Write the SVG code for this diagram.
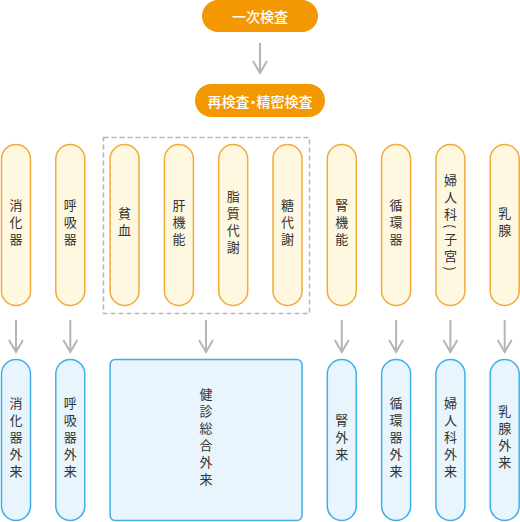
<svg xmlns="http://www.w3.org/2000/svg" width="520" height="522" viewBox="0 0 520 522">
<style>
.main{fill:#f39800}
.mt{fill:#fff;font-family:"Noto Sans CJK JP","Noto Sans",sans-serif;font-size:14px;font-weight:500;text-anchor:middle;dominant-baseline:central;font-feature-settings:"palt"}
.y{fill:#fff8e1;stroke:#f5a938;stroke-width:1.5}
.b{fill:#e8f5fd;stroke:#3fb0ea;stroke-width:1.5}
.vt{fill:#333;font-family:"Noto Sans CJK JP","Noto Sans",sans-serif;font-size:13px;writing-mode:vertical-rl;text-anchor:middle;letter-spacing:4px}
.ar{stroke:#b5b5b5;stroke-width:2;fill:none;marker-end:url(#ah)}
</style>
<defs>
<marker id="ah" markerUnits="userSpaceOnUse" viewBox="-14 -9 16 18" markerWidth="16" markerHeight="18" refX="0" refY="0" orient="auto">
<path d="M-12,-7 L0,0 L-12,7" fill="none" stroke="#b5b5b5" stroke-width="2"/>
</marker>
</defs>
<rect width="520" height="522" fill="#fff"/>
<g id="connectors">
<line class="ar" x1="260" y1="43" x2="260" y2="73"/>
<line class="ar" x1="16" y1="320" x2="16" y2="352"/>
<line class="ar" x1="70.3" y1="320" x2="70.3" y2="352"/>
<line class="ar" x1="206" y1="320" x2="206" y2="352"/>
<line class="ar" x1="341.8" y1="320" x2="341.8" y2="352"/>
<line class="ar" x1="396.1" y1="320" x2="396.1" y2="352"/>
<line class="ar" x1="450.4" y1="320" x2="450.4" y2="352"/>
<line class="ar" x1="504.7" y1="320" x2="504.7" y2="352"/>
</g>
<g id="n-ichiji"><rect class="main" x="202" y="0" width="116" height="32" rx="16"/><text class="mt" x="260" y="16">一次検査</text></g>
<g id="n-saikensa"><rect class="main" x="195" y="84" width="130" height="33" rx="16.5"/><text class="mt" x="260" y="100.5">再検査・精密検査</text></g>
<g id="group-box"><rect x="103.5" y="137.5" width="206" height="176" fill="none" stroke="#b5b5b5" stroke-width="1.5" stroke-dasharray="5,3"/></g>
<g id="n-shoukaki"><rect class="y" x="1.5" y="144.5" width="29" height="161" rx="14.5"/><text class="vt" x="16" y="224">消化器</text></g>
<g id="n-kokyuki"><rect class="y" x="55.8" y="144.5" width="29" height="161" rx="14.5"/><text class="vt" x="70.3" y="224">呼吸器</text></g>
<g id="n-hinketsu"><rect class="y" x="110.1" y="144.5" width="29" height="161" rx="14.5"/><text class="vt" x="124.6" y="224">貧血</text></g>
<g id="n-kankino"><rect class="y" x="164.4" y="144.5" width="29" height="161" rx="14.5"/><text class="vt" x="178.9" y="224">肝機能</text></g>
<g id="n-shishitsu"><rect class="y" x="218.7" y="144.5" width="29" height="161" rx="14.5"/><text class="vt" x="233.2" y="224">脂質代謝</text></g>
<g id="n-toutaisha"><rect class="y" x="273" y="144.5" width="29" height="161" rx="14.5"/><text class="vt" x="287.5" y="224">糖代謝</text></g>
<g id="n-jinkino"><rect class="y" x="327.3" y="144.5" width="29" height="161" rx="14.5"/><text class="vt" x="341.8" y="224">腎機能</text></g>
<g id="n-junkanki"><rect class="y" x="381.6" y="144.5" width="29" height="161" rx="14.5"/><text class="vt" x="396.1" y="224">循環器</text></g>
<g id="n-fujinka"><rect class="y" x="435.9" y="144.5" width="29" height="161" rx="14.5"/><text class="vt" x="450.4" y="224">婦人科(子宮)</text></g>
<g id="n-nyusen"><rect class="y" x="490.2" y="144.5" width="29" height="161" rx="14.5"/><text class="vt" x="504.7" y="224">乳腺</text></g>
<g id="o-shoukaki"><rect class="b" x="1.5" y="359.5" width="29" height="161" rx="14.5"/><text class="vt" x="16" y="439">消化器外来</text></g>
<g id="o-kokyuki"><rect class="b" x="55.8" y="359.5" width="29" height="161" rx="14.5"/><text class="vt" x="70.3" y="439">呼吸器外来</text></g>
<g id="o-kenshin"><rect class="b" x="110.1" y="359.5" width="191.9" height="161" rx="5"/><text class="vt" x="206" y="439">健診総合外来</text></g>
<g id="o-jin"><rect class="b" x="327.3" y="359.5" width="29" height="161" rx="14.5"/><text class="vt" x="341.8" y="439">腎外来</text></g>
<g id="o-junkanki"><rect class="b" x="381.6" y="359.5" width="29" height="161" rx="14.5"/><text class="vt" x="396.1" y="439">循環器外来</text></g>
<g id="o-fujinka"><rect class="b" x="435.9" y="359.5" width="29" height="161" rx="14.5"/><text class="vt" x="450.4" y="439">婦人科外来</text></g>
<g id="o-nyusen"><rect class="b" x="490.2" y="359.5" width="29" height="161" rx="14.5"/><text class="vt" x="504.7" y="439">乳腺外来</text></g>
</svg>
